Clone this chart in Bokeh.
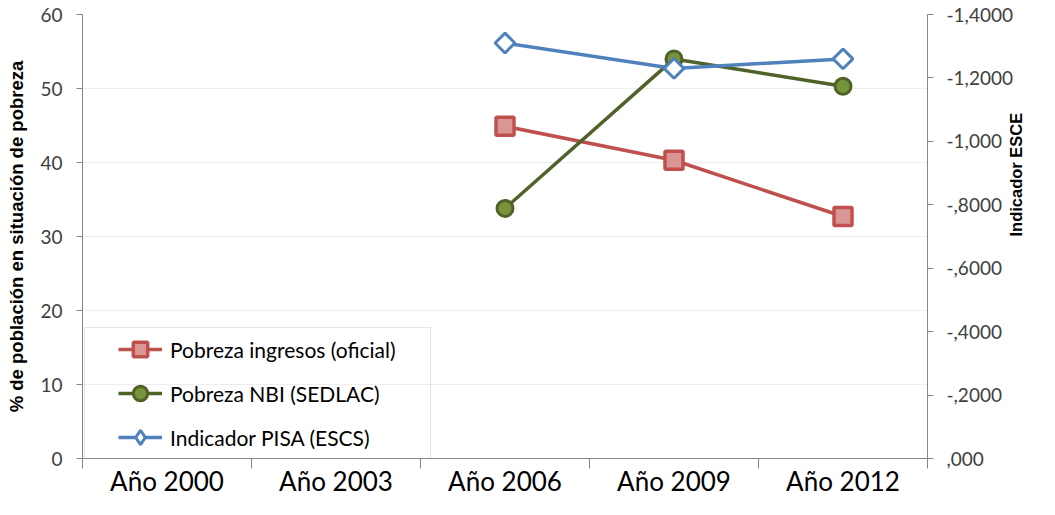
from bokeh.plotting import figure
from bokeh.models import (Range1d, LinearAxis, FixedTicker, Legend, LegendItem,
                          BoxAnnotation, ColumnDataSource)
from bokeh.embed import file_html
from bokeh.resources import INLINE
import math

# ---- data ----
categories = ["Año 2000", "Año 2003", "Año 2006", "Año 2009", "Año 2012"]
nan = float("nan")
pobreza_ingresos = [nan, nan, 44.9, 40.3, 32.7]
pobreza_nbi = [nan, nan, 33.8, 54.0, 50.3]
indicador_pisa = [nan, nan, -1.31, -1.23, -1.26]

left_ticks = [0, 10, 20, 30, 40, 50, 60]
right_ticks = [0.0, -0.2, -0.4, -0.6, -0.8, -1.0, -1.2, -1.4]
right_tick_labels = [",000", "-,2000", "-,4000", "-,6000", "-,8000", "-1,000", "-1,2000", "-1,4000"]

xs = [i + 0.5 for i in range(len(categories))]
src = ColumnDataSource(dict(x=xs, ing=pobreza_ingresos, nbi=pobreza_nbi, pisa=indicador_pisa))

FONT = "Lato"
GRAY = "#868686"

W, H = 1039, 499
BL, BR, BT, BB = 82, 112, 14, 41

p = figure(width=W, height=H, output_backend="svg", toolbar_location=None,
           x_range=Range1d(0, len(categories)), y_range=Range1d(0, 60),
           min_border_left=BL, min_border_right=BR, min_border_top=BT, min_border_bottom=BB)
p.outline_line_color = None
p.xgrid.grid_line_color = None
p.ygrid.grid_line_color = "#EDEDED"
p.ygrid.ticker = FixedTicker(ticks=left_ticks)
p.extra_y_ranges = {"esce": Range1d(0, -1.4)}

# bottom axis: labels centred on categories, ticks on category boundaries
xa = p.xaxis[0]
xa.ticker = FixedTicker(ticks=xs, minor_ticks=list(range(len(categories) + 1)))
xa.major_label_overrides = {x: c for x, c in zip(xs, categories)}
xa.major_tick_line_color = None
xa.major_tick_out = 0
xa.major_tick_in = 0
xa.minor_tick_out = 0
xa.minor_tick_in = -10
xa.minor_tick_line_color = GRAY
xa.axis_line_color = GRAY
xa.major_label_text_font = FONT
xa.major_label_text_font_size = "26px"
xa.major_label_text_color = "#000000"
xa.major_label_standoff = 6

# left axis
ya = p.yaxis[0]
ya.ticker = FixedTicker(ticks=left_ticks)
ya.minor_tick_line_color = None
ya.major_tick_out = 6
ya.major_tick_in = 0
ya.major_tick_line_color = GRAY
ya.axis_line_color = GRAY
ya.major_label_text_font = FONT
ya.major_label_text_font_size = "19px"
ya.major_label_text_color = "#404040"
ya.major_label_standoff = 14
ya.axis_label = "% de población en situación de pobreza"
ya.axis_label_text_font = "Liberation Sans"
ya.axis_label_text_font_style = "bold"
ya.axis_label_text_font_size = "18.5px"
ya.axis_label_text_color = "#000000"
ya.axis_label_standoff = 10

# right axis
ra = LinearAxis(y_range_name="esce", ticker=FixedTicker(ticks=right_ticks))
ra.major_label_overrides = {t: l for t, l in zip(right_ticks, right_tick_labels)}
ra.minor_tick_line_color = None
ra.major_tick_out = 6
ra.major_tick_in = 0
ra.major_tick_line_color = GRAY
ra.axis_line_color = GRAY
ra.major_label_text_font = FONT
ra.major_label_text_font_size = "19px"
ra.major_label_text_color = "#404040"
ra.major_label_standoff = 13
ra.axis_label = "Indicador ESCE"
ra.axis_label_text_font = "Liberation Sans"
ra.axis_label_text_font_style = "bold"
ra.axis_label_text_font_size = "16.5px"
ra.axis_label_text_color = "#000000"
ra.axis_label_standoff = 0
if "axis_label_orientation" in ra.properties():
    ra.axis_label_orientation = math.pi / 2
    ra.axis_label_text_align = "center"
p.add_layout(ra, "right")

frame_w = W - BL - BR
frame_h = H - BT - BB

# series
RED, RED_FILL = "#C0504D", "#D99694"
GREEN, GREEN_FILL = "#4F6228", "#77933C"
BLUE = "#4F81BD"

l1 = p.line("x", "ing", source=src, line_color=RED, line_width=3.5)
s1 = p.scatter("x", "ing", source=src, marker="square", size=18, fill_color=RED_FILL,
               line_color=RED, line_width=3.5)
l2 = p.line("x", "nbi", source=src, line_color=GREEN, line_width=3.5)
s2 = p.scatter("x", "nbi", source=src, marker="circle", size=16, fill_color=GREEN_FILL,
               line_color=GREEN, line_width=3)
l3 = p.line("x", "pisa", source=src, y_range_name="esce", line_color=BLUE, line_width=3.5)
s3 = p.scatter("x", "pisa", source=src, y_range_name="esce", marker="square", angle=math.pi / 4,
               size=14, fill_color="white", line_color=BLUE, line_width=3)
# legend-only diamond (legend glyphs ignore the rotation angle)
s3_leg = p.scatter("x", "pisa", source=src, y_range_name="esce", marker="diamond",
                   size=0, fill_color="white", line_color=BLUE, line_width=3)

# legend frame
px_per_x = frame_w / len(categories)
px_per_y = frame_h / 60
box = BoxAnnotation(left=2 / px_per_x, right=348 / px_per_x, bottom=0, top=131 / px_per_y,
                    fill_alpha=0, line_color="#A6A6A6", line_width=1)
p.add_layout(box)

legend = Legend(items=[
    LegendItem(label="Pobreza ingresos (oficial)", renderers=[l1, s1]),
    LegendItem(label="Pobreza NBI (SEDLAC)", renderers=[l2, s2]),
    LegendItem(label="Indicador PISA (ESCS)", renderers=[l3, s3_leg]),
], location=(36, 3))
legend.border_line_color = None
legend.background_fill_alpha = 0
legend.padding = 0
legend.margin = 0
legend.spacing = 8
legend.glyph_width = 44
legend.glyph_height = 36
legend.label_height = 36
legend.label_standoff = 8
legend.label_text_font = FONT
legend.label_text_font_size = "21px"
legend.label_text_color = "#000000"
p.add_layout(legend)

open("out.html", "w").write(file_html(p, INLINE))
